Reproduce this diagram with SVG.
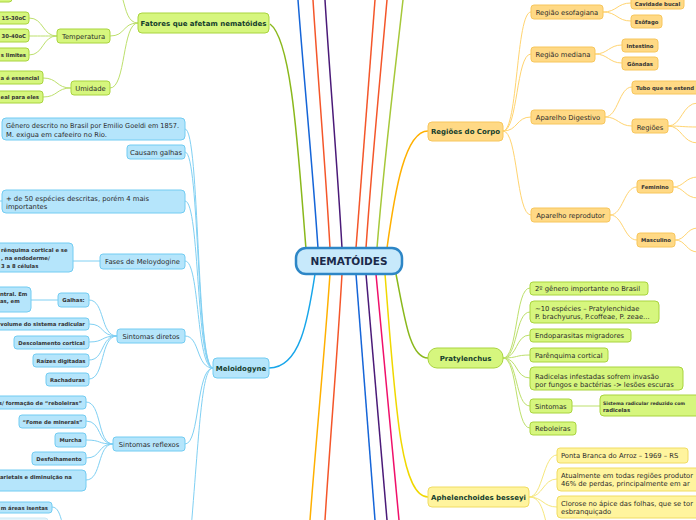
<svg xmlns="http://www.w3.org/2000/svg" width="696" height="520" viewBox="0 0 696 520">
<style>
text{font-family:"DejaVu Sans","Liberation Sans",sans-serif;fill:#2b2b2b}
.t2{font-size:6.8px}
.t3{font-size:5.3px;font-weight:bold;fill:#333}
.tm{font-size:7px;font-weight:bold;fill:#143d2c}
.c{text-anchor:middle}
.e{text-anchor:end}
.g{fill:#d6f67e;stroke:#a9d43e;stroke-width:1}
.b{fill:#b5e5fb;stroke:#72ccf2;stroke-width:1}
.o{fill:#ffd985;stroke:#f7c65c;stroke-width:1}
.y{fill:#fff49e;stroke:#f0dc62;stroke-width:1}
.lg{fill:none;stroke:#bde06c;stroke-width:1}
.lb{fill:none;stroke:#80d0f3;stroke-width:1}
.lo{fill:none;stroke:#ffd470;stroke-width:1}
.ly{fill:none;stroke:#f6e77c;stroke-width:1}
.m{fill:none;stroke-width:1.5}
</style>
<rect width="696" height="520" fill="#ffffff"/>
<g id="connectors">
<path class="m" stroke="#1565d8" d="M318 248 C312 160 304 80 298 0"/>
<path class="m" stroke="#f4562a" d="M330 248 C325 160 318 80 313 0"/>
<path class="m" stroke="#4a1a78" d="M342 248 C337 160 330 80 325 0"/>
<path class="m" stroke="#f4562a" d="M356 248 C362 160 369 80 375 0"/>
<path class="m" stroke="#f4562a" d="M366 248 C372 160 380 80 387 0"/>
<path class="m" stroke="#a6c83a" d="M377 248 C384 160 394 80 403 0"/>
<path class="m" stroke="#8ab81c" d="M306 249 C298 150 292 40 270 24"/>
<path class="m" stroke="#ffb000" d="M387 248 C395 190 405 131 428 131"/>
<path class="m" stroke="#18a6ea" d="M315 274 C308 320 300 368 269 368"/>
<path class="m" stroke="#ffb000" d="M330 274 C324 360 316 440 310 520"/>
<path class="m" stroke="#f4562a" d="M342 274 C337 360 330 440 325 520"/>
<path class="m" stroke="#1565d8" d="M356 274 C362 360 369 440 375 520"/>
<path class="m" stroke="#4a1a78" d="M366 274 C373 360 380 440 387 520"/>
<path class="m" stroke="#f0106a" d="M376 274 C384 360 392 440 399 520"/>
<path class="m" stroke="#f0d800" d="M385 274 C395 400 400 497 428 497"/>
<path class="m" stroke="#8ab81c" d="M396 274 C405 320 410 358 428 358"/>
<path class="lg" d="M138 23 C128 23 126 10 123 0"/>
<path class="lg" d="M138 23 C122 23 126 36 110 36"/>
<path class="lg" d="M138 23 C122 23 126 88 110 88"/>
<path class="lg" d="M57 36 C42 36 44 18 29 18"/>
<path class="lg" d="M57 36 C42 36 44 36 29 36"/>
<path class="lg" d="M57 36 C42 36 44 55 29 55"/>
<path class="lg" d="M71 88 C56 88 58 78 43 78"/>
<path class="lg" d="M71 88 C56 88 58 97 43 97"/>
<path class="lb" d="M213 368 C196 368 200 129 185 129"/>
<path class="lb" d="M213 368 C196 368 200 152 185 152"/>
<path class="lb" d="M213 368 C196 368 200 201 185 201"/>
<path class="lb" d="M213 368 C196 368 200 261 185 261"/>
<path class="lb" d="M213 368 C196 368 200 336 185 336"/>
<path class="lb" d="M213 368 C196 368 200 444 185 444"/>
<path class="lb" d="M213 368 C202 368 200 420 191 530"/>
<path class="lb" d="M2 201 L-5 201"/>
<path class="lb" d="M100 261 L73 261"/>
<path class="lb" d="M117 336 C100 336 105 300 89 300"/>
<path class="lb" d="M117 336 C100 336 105 324 89 324"/>
<path class="lb" d="M117 336 C100 336 105 342 89 342"/>
<path class="lb" d="M117 336 C100 336 105 360 89 360"/>
<path class="lb" d="M117 336 C100 336 105 379 89 379"/>
<path class="lb" d="M58 300 L31 300"/>
<path class="lb" d="M113 444 C97 444 102 402 86 402"/>
<path class="lb" d="M113 444 C97 444 102 421 86 421"/>
<path class="lb" d="M113 444 C97 444 102 440 86 440"/>
<path class="lb" d="M113 444 C97 444 102 458 86 458"/>
<path class="lb" d="M113 444 C97 444 102 480 86 480"/>
<path class="lb" d="M52 507 C58 507 60 515 62 522"/>
<path class="lo" d="M503 131 C518 131 516 12 531 12"/>
<path class="lo" d="M503 131 C518 131 516 54 531 54"/>
<path class="lo" d="M503 131 C518 131 516 117 531 117"/>
<path class="lo" d="M503 131 C518 131 516 215 531 215"/>
<path class="lo" d="M603 12 C617 12 617 3 631 3"/>
<path class="lo" d="M603 12 C617 12 617 21 631 21"/>
<path class="lo" d="M595 54 C608 54 609 45 622 45"/>
<path class="lo" d="M595 54 C608 54 609 63 622 63"/>
<path class="lo" d="M605 117 C618 117 619 87 632 87"/>
<path class="lo" d="M605 117 C618 117 619 126 632 126"/>
<path class="lo" d="M668 126 C682 126 682 103 698 103"/>
<path class="lo" d="M668 126 C682 126 682 127 698 127"/>
<path class="lo" d="M668 126 C682 126 682 143 698 143"/>
<path class="lo" d="M610 215 C623 215 624 187 637 187"/>
<path class="lo" d="M610 215 C623 215 624 240 637 240"/>
<path class="lo" d="M673 187 C684 187 685 177 698 177"/>
<path class="lo" d="M673 187 C684 187 685 198 698 198"/>
<path class="lo" d="M675 240 C686 240 686 228 698 228"/>
<path class="lo" d="M675 240 C686 240 686 252 698 252"/>
<path class="lg" d="M503 358 C518 358 515 288 530 288"/>
<path class="lg" d="M503 358 C518 358 515 312 530 312"/>
<path class="lg" d="M503 358 C518 358 515 335 530 335"/>
<path class="lg" d="M503 358 C518 358 515 355 530 355"/>
<path class="lg" d="M503 358 C518 358 515 378 530 378"/>
<path class="lg" d="M503 358 C518 358 515 406 530 406"/>
<path class="lg" d="M503 358 C518 358 515 428 530 428"/>
<path class="lg" d="M572 406 L600 406" stroke-width="1.5"/>
<path class="ly" d="M529 497 C543 497 543 455 557 455"/>
<path class="ly" d="M529 497 C543 497 543 479 557 479"/>
<path class="ly" d="M529 497 C543 497 543 507 557 507"/>
<path class="ly" d="M529 497 C538 497 542 505 546 522"/>
</g>

<g id="center">
<rect x="296" y="248" width="106" height="26" rx="10" fill="#c7e9fb" stroke="#2d86c6" stroke-width="2.5"/>
<text x="349" y="265" class="c" style="font-size:10.5px;font-weight:bold;fill:#1b2a4a">NEMATÓIDES</text>
</g>

<g id="top-left-stub"><rect class="g" x="-20" y="-12" width="32" height="14" rx="3"/></g>

<g id="fatores"><rect class="g" x="138" y="13" width="131" height="20" rx="4"/><text class="tm c" x="203.5" y="25.5">Fatores que afetam nematóides</text></g>
<g id="temperatura"><rect class="g" x="57" y="29" width="53" height="14" rx="3"/><text class="t2 c" x="83.5" y="38.5">Temperatura</text></g>
<g id="t1"><rect class="g" x="-20" y="12" width="49" height="12" rx="3"/><text class="t3 e" x="26" y="20">15-30oC</text></g>
<g id="t2"><rect class="g" x="-20" y="29" width="49" height="13" rx="3"/><text class="t3 e" x="26" y="37.5">30-40oC</text></g>
<g id="t3"><rect class="g" x="-20" y="48" width="49" height="13" rx="3"/><text class="t3 e" x="26" y="56.5">s limites</text></g>
<g id="umidade"><rect class="g" x="71" y="81" width="39" height="14" rx="3"/><text class="t2 c" x="90.5" y="90.5">Umidade</text></g>
<g id="u1"><rect class="g" x="-20" y="71" width="63" height="13" rx="3"/><text class="t3 e" x="39" y="79.5">a é essencial</text></g>
<g id="u2"><rect class="g" x="-20" y="91" width="63" height="12" rx="3"/><text class="t3 e" x="39" y="99">eal para eles</text></g>

<g id="meloidogyne"><rect class="b" x="213" y="358" width="56" height="20" rx="4"/><text class="tm c" x="241" y="370.5">Meloidogyne</text></g>
<g id="genero"><rect class="b" x="2" y="118" width="183" height="22" rx="4"/><text class="t2" x="6" y="128" textLength="173" lengthAdjust="spacingAndGlyphs">Gênero descrito no Brasil por Emilio Goeldi em 1857.</text><text class="t2" x="6" y="136.5">M. exigua em cafeeiro no Rio.</text></g>
<g id="causam"><rect class="b" x="127" y="145" width="58" height="14" rx="3"/><text class="t2 c" x="156" y="154.5">Causam galhas</text></g>
<g id="especies"><rect class="b" x="2" y="190" width="183" height="23" rx="4"/><text class="t2" x="6" y="200.5">+ de 50 espécies descritas, porém 4 mais</text><text class="t2" x="6" y="208.5">importantes</text></g>
<g id="fases"><rect class="b" x="100" y="254" width="85" height="15" rx="3"/><text class="t2 c" x="142.5" y="264">Fases de Meloydogine</text></g>
<g id="fases-c"><rect class="b" x="-10" y="243" width="83" height="29" rx="4"/><text class="t3" x="1" y="252">rênquima cortical e se</text><text class="t3" x="1" y="260">, na endoderme/</text><text class="t3" x="1" y="267.5">3 a 8 células</text></g>
<g id="diretos"><rect class="b" x="117" y="329" width="68" height="14" rx="3"/><text class="t2 c" x="151" y="338.5">Sintomas diretos</text></g>
<g id="galhas"><rect class="b" x="58" y="293" width="31" height="14" rx="3"/><text class="t3 c" x="73.5" y="302">Galhas:</text></g>
<g id="galhas-c"><rect class="b" x="-10" y="287" width="41" height="25" rx="4"/><text class="t3" x="0" y="296">ntral. Em</text><text class="t3" x="0" y="302.5">as, em</text></g>
<g id="volume"><rect class="b" x="-10" y="318" width="99" height="12" rx="3"/><text class="t3 e" x="85" y="326">volume do sistema radicular</text></g>
<g id="descolamento"><rect class="b" x="14" y="336" width="75" height="13" rx="3"/><text class="t3 c" x="51.5" y="344.5">Descolamento cortical</text></g>
<g id="raizes"><rect class="b" x="33" y="354" width="56" height="13" rx="3"/><text class="t3 c" x="61" y="362.5">Raízes digitadas</text></g>
<g id="rachaduras"><rect class="b" x="46" y="373" width="43" height="13" rx="3"/><text class="t3 c" x="67.5" y="381.5">Rachaduras</text></g>
<g id="reflexos"><rect class="b" x="113" y="437" width="72" height="14" rx="3"/><text class="t2 c" x="149" y="446.5">Sintomas reflexos</text></g>
<g id="reboleiras-l"><rect class="b" x="-10" y="396" width="96" height="13" rx="3"/><text class="t3 e" x="82" y="404.5">s/ formação de “reboleiras”</text></g>
<g id="fome"><rect class="b" x="19" y="415" width="67" height="13" rx="3"/><text class="t3 c" x="52.5" y="423.5">“Fome de minerais”</text></g>
<g id="murcha"><rect class="b" x="55" y="433" width="31" height="14" rx="3"/><text class="t3 c" x="70.5" y="442">Murcha</text></g>
<g id="desfolhamento"><rect class="b" x="32" y="452" width="54" height="13" rx="3"/><text class="t3 c" x="59" y="460.5">Desfolhamento</text></g>
<g id="varietais"><rect class="b" x="-10" y="470" width="96" height="21" rx="4"/><text class="t3" x="0" y="479">arietais e diminuição na</text></g>
<g id="isentas"><rect class="b" x="-10" y="502" width="62" height="11" rx="3"/><text class="t3 e" x="48" y="509.5">m áreas isentas</text></g>
<g id="bottom-stub"><rect x="-10" y="518" width="58" height="12" rx="3" fill="#e4f4fb" stroke="#cde9f5"/></g>

<g id="regioes-corpo"><rect class="o" x="428" y="122" width="75" height="19" rx="4"/><text class="tm c" x="465.5" y="134">Regiões do Corpo</text></g>
<g id="esofagiana"><rect class="o" x="531" y="5" width="72" height="14" rx="3"/><text class="t2 c" x="567" y="14.5">Região esofagiana</text></g>
<g id="cavidade"><rect class="o" x="631" y="-4" width="53" height="13" rx="3"/><text class="t3 c" x="657.5" y="6">Cavidade bucal</text></g>
<g id="esofago"><rect class="o" x="631" y="15" width="31" height="13" rx="3"/><text class="t3 c" x="646.5" y="24">Esôfago</text></g>
<g id="mediana"><rect class="o" x="531" y="47" width="64" height="15" rx="3"/><text class="t2 c" x="563" y="56.5">Região mediana</text></g>
<g id="intestino"><rect class="o" x="622" y="39" width="36" height="13" rx="3"/><text class="t3 c" x="640" y="47.5">Intestino</text></g>
<g id="gonadas"><rect class="o" x="622" y="57" width="36" height="13" rx="3"/><text class="t3 c" x="640" y="65.5">Gônadas</text></g>
<g id="digestivo"><rect class="o" x="531" y="110" width="74" height="14" rx="3"/><text class="t2 c" x="568" y="119.5">Aparelho Digestivo</text></g>
<g id="tubo"><rect class="o" x="632" y="81" width="80" height="13" rx="3"/><text class="t3" x="636" y="90">Tubo que se estend</text></g>
<g id="regioes"><rect class="o" x="632" y="119" width="36" height="14" rx="3"/><text class="t2 c" x="650" y="129.5">Regiões</text></g>
<g id="reprodutor"><rect class="o" x="531" y="208" width="79" height="14" rx="3"/><text class="t2 c" x="570.5" y="217.5">Aparelho reprodutor</text></g>
<g id="feminino"><rect class="o" x="637" y="180" width="36" height="13" rx="3"/><text class="t3 c" x="655" y="189">Feminino</text></g>
<g id="masculino"><rect class="o" x="637" y="233" width="38" height="14" rx="3"/><text class="t3 c" x="656" y="242">Masculino</text></g>

<g id="pratylenchus"><rect class="g" x="428" y="348" width="75" height="20" rx="9"/><text class="tm c" x="465.5" y="360.5">Pratylenchus</text></g>
<g id="p1"><rect class="g" x="530" y="282" width="118" height="13" rx="3"/><text class="t2" x="535" y="291">2º gênero importante no Brasil</text></g>
<g id="p2"><rect class="g" x="530" y="301" width="129" height="22" rx="4"/><text class="t2" x="535" y="310.5">~10 espécies – Pratylenchidae</text><text class="t2" x="535" y="319">P. brachyurus, P.coffeae, P. zeae...</text></g>
<g id="p3"><rect class="g" x="530" y="329" width="101" height="13" rx="3"/><text class="t2" x="535" y="338">Endoparasitas migradores</text></g>
<g id="p4"><rect class="g" x="530" y="348" width="78" height="14" rx="3"/><text class="t2" x="535" y="357.5">Parênquima cortical</text></g>
<g id="p5"><rect class="g" x="530" y="367" width="153" height="23" rx="4"/><text class="t2" x="535" y="378.5">Radicelas infestadas sofrem invasão</text><text class="t2" x="535" y="386.5">por fungos e bactérias -&gt; lesões escuras</text></g>
<g id="p6"><rect class="g" x="530" y="399" width="42" height="14" rx="3"/><text class="t2" x="535" y="408.5">Sintomas</text></g>
<g id="p6c"><rect class="g" x="600" y="395" width="100" height="21" rx="4"/><text x="603" y="404.5" style="font-size:4.6px;font-weight:bold;fill:#333">Sistema radicular reduzido com</text><text class="t3" x="603" y="412">radicelas</text></g>
<g id="p7"><rect class="g" x="530" y="422" width="46" height="13" rx="3"/><text class="t2" x="535" y="431">Reboleiras</text></g>

<g id="aphelenchoides"><rect class="y" x="428" y="487" width="101" height="20" rx="4"/><text class="tm c" x="478.5" y="499.5">Aphelenchoides besseyi</text></g>
<g id="a1"><rect class="y" x="557" y="448" width="131" height="15" rx="3"/><text class="t2" x="561" y="458">Ponta Branca do Arroz – 1969 – RS</text></g>
<g id="a2"><rect class="y" x="557" y="468" width="150" height="23" rx="4"/><text class="t2" x="561" y="477.5">Atualmente em todas regiões produtor</text><text class="t2" x="561" y="485.5">46% de perdas, principalmente em ar</text></g>
<g id="a3"><rect class="y" x="557" y="496" width="150" height="22" rx="4"/><text class="t2" x="561" y="505.5">Clorose no ápice das folhas, que se tor</text><text class="t2" x="561" y="514">esbranquiçado</text></g>
</svg>
